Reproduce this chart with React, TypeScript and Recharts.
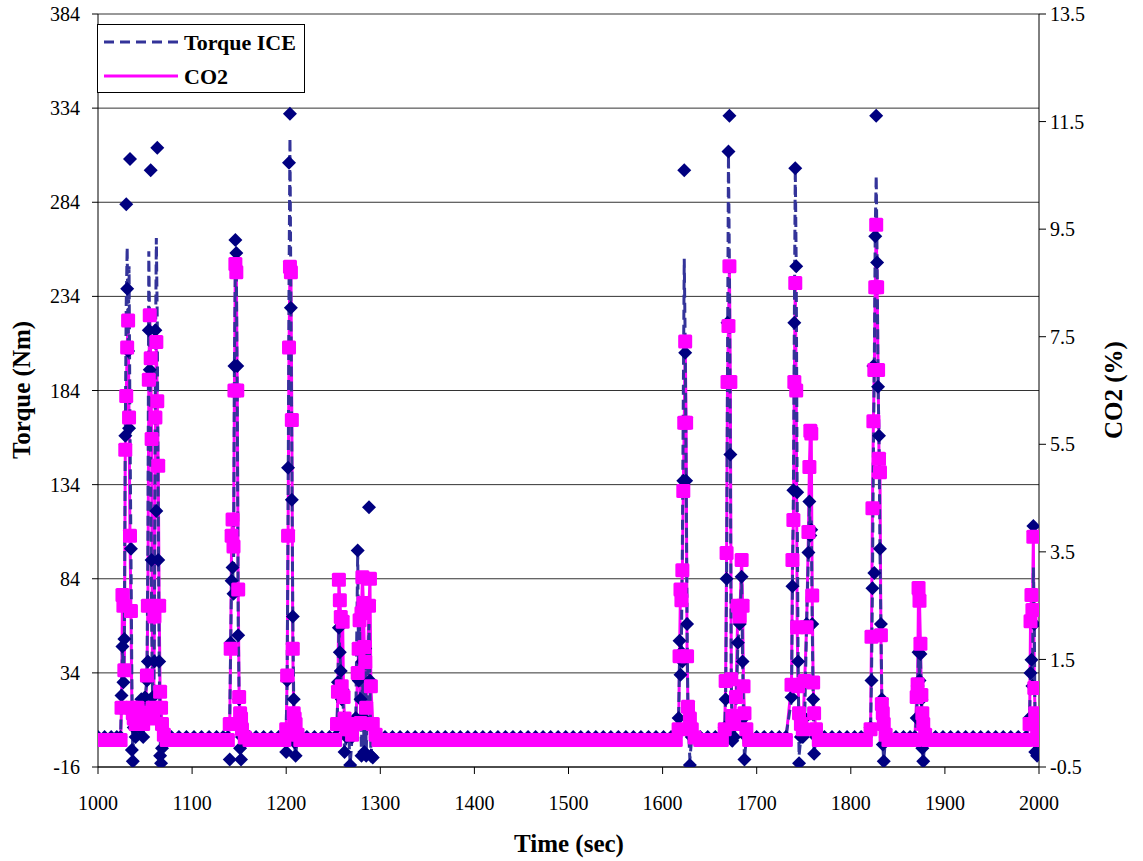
import React from 'react';
import { ComposedChart, Line, XAxis, YAxis, CartesianGrid, Legend, Label } from 'recharts';

const FONT = '"Liberation Serif", "Times New Roman", serif';

const xTicks = [1000, 1100, 1200, 1300, 1400, 1500, 1600, 1700, 1800, 1900, 2000];
const torqueTicks = [-16, 34, 84, 134, 184, 234, 284, 334, 384];
const co2Ticks = [-0.5, 1.5, 3.5, 5.5, 7.5, 9.5, 11.5, 13.5];

const time = [
  1000, 1007, 1014, 1020,
  1024, 1025, 1026, 1027, 1028, 1029, 1030, 1031, 1032, 1033, 1034, 1035, 1036, 1037, 1038, 1040, 1042, 1044, 1046, 1048, 1050, 1052, 1053, 1054, 1055, 1056, 1057, 1058, 1059, 1060, 1061, 1062, 1063, 1064, 1065, 1066, 1067, 1068, 1070, 1073,
  1078, 1086, 1094, 1102, 1110, 1118, 1126, 1133,
  1138, 1140, 1141, 1142, 1143, 1144, 1145, 1146, 1147, 1148, 1149, 1150, 1151, 1152, 1153, 1156,
  1161, 1168, 1176, 1184, 1192,
  1198, 1200, 1201, 1202, 1203, 1204, 1205, 1206, 1207, 1208, 1209, 1210, 1212, 1215,
  1222, 1230, 1238, 1246,
  1252, 1254, 1255, 1256, 1257, 1258, 1259, 1260, 1261, 1262, 1264, 1266, 1268, 1270, 1274, 1276, 1277, 1278, 1279, 1280, 1281, 1282, 1283, 1284, 1285, 1288, 1289, 1290, 1292, 1295, 1298,
  1305, 1313, 1321, 1329, 1337, 1345, 1353, 1361, 1369, 1377,
  1385, 1393, 1401, 1409, 1417, 1425, 1433, 1441, 1449, 1457,
  1465, 1473, 1481, 1489, 1497, 1505, 1513, 1521, 1529, 1537,
  1545, 1553, 1561, 1569, 1577, 1585, 1593, 1601, 1609,
  1614, 1617, 1618, 1619, 1620, 1621, 1622, 1623, 1624, 1625, 1626, 1627, 1629, 1631, 1634,
  1640, 1648, 1656,
  1663, 1666, 1667, 1668, 1669, 1670, 1671, 1672, 1673, 1674, 1676, 1678, 1680, 1682, 1684, 1685, 1686, 1687, 1689, 1692,
  1700, 1708, 1716, 1724,
  1731, 1737, 1738, 1739, 1740, 1741, 1742, 1743, 1744, 1745, 1747, 1749, 1751, 1753, 1755, 1756, 1757, 1758, 1759, 1760, 1761, 1763, 1766,
  1772, 1780, 1788, 1796, 1804, 1811,
  1816, 1821, 1822, 1823, 1824, 1825, 1826, 1827, 1828, 1829, 1830, 1831, 1832, 1833, 1834, 1835, 1837, 1840,
  1848, 1856, 1863,
  1868, 1870, 1871, 1872, 1873, 1874, 1875, 1876, 1877, 1879, 1882,
  1890, 1898, 1906, 1914, 1922, 1930, 1938, 1946, 1954, 1962, 1970, 1978,
  1986, 1990, 1991, 1992, 1993, 1994, 1995, 1996, 1997, 1998, 2000,
];

// Torque ICE (dashed line)
const torqueIce = [
  0, 0, 0, 0,
  0, 22, 48, 29, 52, 160, 230, 260, 205, 250, 164, 100, 30, -13, 5, 0, 15, 5, 20, 0, 21, 30, 100, 258, 210, 150, 60, 20, 10, 60, 200, 265, 220, 120, 40, 0, -14, -5, 0, 0,
  0, 0, 0, 0, 0, 0, 0, 0,
  0, 10, 50, 85, 90, 80, 200, 255, 250, 180, 60, 20, -5, -12, 0, 0,
  0, 0, 0, 0, 0,
  0, 5, 30, 120, 240, 318, 230, 150, 65, 20, -5, -10, 0, 0,
  0, 0, 0, 0,
  0, 5, 30, 58, 45, 35, 20, 25, 10, -8, 0, 5, -15, 0, 10, 99, 30, 60, 20, -10, 40, 10, -8, 47, -10, 60, 30, -10, 0, 0, 0,
  0, 0, 0, 0, 0, 0, 0, 0, 0, 0,
  0, 0, 0, 0, 0, 0, 0, 0, 0, 0,
  0, 0, 0, 0, 0, 0, 0, 0, 0, 0,
  0, 0, 0, 0, 0, 0, 0, 0, 0,
  0, 10, 40, 30, 50, 100, 180, 254, 210, 140, 60, 10, -12, 0, 0,
  0, 0, 0,
  0, 5, 20, 84, 200, 309, 250, 150, 30, -5, 0, 10, 50, 60, 85, 40, 10, -12, 0, 0,
  0, 0, 0, 0,
  0, 20, 80, 131, 220, 302, 250, 130, 40, -10, 0, 0, 10, 60, 98, 125, 107, 115, 60, 20, -9, 0, 0,
  0, 0, 0, 0, 0, 0,
  0, 5, 30, 80, 150, 200, 270, 298, 252, 186, 160, 100, 60, 20, -4, -13, 0, 0,
  0, 0, 0,
  0, 10, 27, 45, 30, 44, 20, -6, -13, 0, 0,
  0, 0, 0, 0, 0, 0, 0, 0, 0, 0, 0, 0,
  0, 10, 34, 41, 27, 90, 60, -8, 5, -10, 0,
];

// Torque ICE (diamond markers)
const torqueMarks = [
  0, 0, 0, 0,
  0, 22, 48, 29, 52, 160, 283, 238, 205, 164, 307, 100, -7, -13, 5, 0, 15, 5, 20, 0, 21, 30, 40, 216, 195, 301, 94, 21, 10, 40, 216, 120, 313, 94, 40, -10, -14, -6, 0, 0,
  0, 0, 0, 0, 0, 0, 0, 0,
  0, -12, 50, 83, 90, 76, 197, 264, 257, 197, 54, 20, -6, -12, 0, 0,
  0, 0, 0, 0, 0,
  0, -8, 30, 143, 305, 331, 228, 126, 64, 20, -3, -10, 0, 0,
  0, 0, 0, 0,
  0, 5, 29, 58, 45, 35, 20, 25, 10, -8, 0, 5, -15, 0, 10, 99, 30, 47, 20, -10, 40, 10, -8, 47, -10, 122, 30, -10, -11, 0, 0,
  0, 0, 0, 0, 0, 0, 0, 0, 0, 0,
  0, 0, 0, 0, 0, 0, 0, 0, 0, 0,
  0, 0, 0, 0, 0, 0, 0, 0, 0, 0,
  0, 0, 0, 0, 0, 0, 0, 0, 0,
  0, 10, 51, 33, 45, 40, 136, 301, 204, 136, 60, 10, -15, 0, 0,
  0, 0, 0,
  0, 5, 20, 84, 220, 311, 330, 150, 30, -2, 0, 10, 50, 60, 85, 40, 10, -12, 0, 0,
  0, 0, 0, 0,
  0, 21, 80, 131, 220, 302, 250, 130, 40, -14, 0, 0, 10, 60, 98, 125, 107, 110, 60, 20, -9, 0, 0,
  0, 0, 0, 0, 0, 0,
  0, 5, 30, 79, 197, 87, 266, 330, 252, 186, 160, 100, 60, 20, -4, -13, 0, 0,
  0, 0, 0,
  0, 10, 27, 45, 30, 44, 20, -6, -13, 0, 0,
  0, 0, 0, 0, 0, 0, 0, 0, 0, 0, 0, 0,
  0, 10, 34, 41, 27, 112, 60, -8, 5, -10, 0,
];

// CO2 (%)
const co2 = [
  0, 0, 0, 0,
  0, 0.6, 2.7, 2.5, 1.3, 5.4, 6.4, 7.3, 7.8, 6.0, 3.8, 2.4, 0.6, 0.5, 0.4, 0.3, 0.6, 0.4, 0.5, 0.3, 0.5, 1.2, 2.5, 6.7, 7.9, 7.1, 5.6, 0.6, 0.4, 2.3, 6.0, 7.4, 6.3, 5.1, 2.5, 0.9, 0.6, 0.3, 0.1, 0,
  0, 0, 0, 0, 0, 0, 0, 0,
  0, 0.3, 1.7, 3.8, 4.1, 3.6, 6.5, 8.85, 8.7, 6.5, 2.8, 0.8, 0.5, 0.4, 0.2, 0.05,
  0, 0, 0, 0, 0,
  0, 0.2, 1.2, 3.8, 7.3, 8.8, 8.7, 5.95, 1.7, 0.5, 0.4, 0.3, 0.1, 0,
  0, 0, 0, 0,
  0, 0.3, 0.9, 2.98, 2.6, 2.29, 1.0, 2.2, 0.8, 0.4, 0.2, 0.3, 0.2, 0.1, 0.3, 1.25, 1.7, 2.23, 0.32, 2.36, 3.03, 2.55, 1.73, 1.45, 0.6, 2.5, 3.0, 1.0, 0.3, 0.1, 0,
  0, 0, 0, 0, 0, 0, 0, 0, 0, 0,
  0, 0, 0, 0, 0, 0, 0, 0, 0, 0,
  0, 0, 0, 0, 0, 0, 0, 0, 0, 0,
  0, 0, 0, 0, 0, 0, 0, 0, 0,
  0, 0.2, 1.56, 2.8, 2.6, 3.16, 4.63, 5.9, 7.41, 5.9, 1.56, 0.62, 0.4, 0.2, 0.05,
  0, 0, 0,
  0, 0.2, 1.1, 3.48, 6.66, 7.7, 8.81, 6.66, 1.13, 0.45, 0.3, 0.8, 2.5, 2.3, 3.35, 2.5, 1.0, 0.5, 0.2, 0,
  0, 0, 0, 0,
  0, 1.03, 3.35, 4.09, 6.66, 8.5, 6.5, 2.1, 1.0, 0.5, 0.3, 0.2, 1.1, 2.1, 3.87, 5.08, 5.75, 5.7, 2.69, 1.07, 0.5, 0.2, 0,
  0, 0, 0, 0, 0, 0,
  0, 0.2, 1.92, 4.31, 5.93, 6.88, 8.42, 9.58, 8.42, 6.88, 5.23, 4.98, 1.95, 0.67, 0.5, 0.3, 0.1, 0,
  0, 0, 0,
  0, 0.8, 1.04, 2.83, 2.59, 1.79, 0.84, 0.5, 0.3, 0.1, 0,
  0, 0, 0, 0, 0, 0, 0, 0, 0, 0, 0, 0,
  0, 0.3, 2.21, 2.7, 2.42, 3.78, 0.97, 0.5, 0.3, 0.1, 0,
];

const n = Math.min(time.length, torqueIce.length, torqueMarks.length, co2.length);
const rows = time.slice(0, n).map((t, i) => ({ t, tl: torqueIce[i], tm: torqueMarks[i], c: co2[i] }));

const renderDiamond = (p: any) => {
  const { cx, cy, index } = p;
  if (cx == null || cy == null) return <g key={`d${index}`} />;
  return <path key={`d${index}`} d={`M${cx},${cy - 7}L${cx + 7},${cy}L${cx},${cy + 7}L${cx - 7},${cy}Z`} fill="#000080" />;
};

const renderSquare = (p: any) => {
  const { cx, cy, index } = p;
  if (cx == null || cy == null) return <g key={`s${index}`} />;
  return <rect key={`s${index}`} x={cx - 7} y={cy - 7} width={14} height={14} rx={1.5} fill="#FF00FF" />;
};

const renderLegend = () => (
  <div style={{ width: 208, height: 69, border: '1px solid #000', background: '#fff', boxSizing: 'border-box' }}>
    <svg width={206} height={67} style={{ display: 'block' }}>
      <line x1={6} y1={17} x2={80} y2={17} stroke="#333399" strokeWidth={3} strokeDasharray="10 6" />
      <line x1={6} y1={51} x2={80} y2={51} stroke="#FF00FF" strokeWidth={3} />
      <text x={86} y={25} fontFamily={FONT} fontWeight="bold" fontSize={22} fill="#000">Torque ICE</text>
      <text x={86} y={59} fontFamily={FONT} fontWeight="bold" fontSize={22} fill="#000">CO2</text>
    </svg>
  </div>
);

const tickStyle = { fill: '#000', fontSize: 20, fontFamily: FONT };

export default function App() {
  return (
    <div style={{ position: 'absolute', left: 0, top: 0, width: 1143, height: 861, background: '#fff' }}>
      <ComposedChart width={1143} height={861} data={rows} margin={{ top: 14, right: 44, bottom: 34, left: 38 }}>
        <CartesianGrid yAxisId="left" vertical={false} stroke="#333" strokeWidth={1} />
        <XAxis
          dataKey="t"
          type="number"
          domain={[1000, 2000]}
          ticks={xTicks}
          allowDataOverflow
          height={60}
          tickSize={7}
          tickMargin={22}
          tick={tickStyle}
          axisLine={{ stroke: '#000', strokeWidth: 1 }}
          tickLine={{ stroke: '#000' }}
        >
          <Label
            content={() => (
              <text x={569} y={852} textAnchor="middle" fontFamily={FONT} fontWeight="bold" fontSize={25} fill="#000">
                Time (sec)
              </text>
            )}
          />
        </XAxis>
        <YAxis
          yAxisId="left"
          type="number"
          domain={[-16, 384]}
          ticks={torqueTicks}
          allowDataOverflow
          width={60}
          tickSize={6}
          tickMargin={12}
          tick={tickStyle}
          axisLine={{ stroke: '#000', strokeWidth: 1 }}
          tickLine={{ stroke: '#000' }}
        >
          <Label
            content={() => (
              <text x={30} y={390} transform="rotate(-90 30 390)" textAnchor="middle" fontFamily={FONT} fontWeight="bold" fontSize={25} fill="#000">
                Torque (Nm)
              </text>
            )}
          />
        </YAxis>
        <YAxis
          yAxisId="right"
          orientation="right"
          type="number"
          domain={[-0.5, 13.5]}
          ticks={co2Ticks}
          allowDataOverflow
          width={60}
          tickSize={7}
          tickMargin={4}
          tick={tickStyle}
          tickFormatter={(v: number) => v.toFixed(1)}
          axisLine={{ stroke: '#000', strokeWidth: 1 }}
          tickLine={{ stroke: '#000' }}
        >
          <Label
            content={() => (
              <text x={1122} y={390} transform="rotate(-90 1122 390)" textAnchor="middle" fontFamily={FONT} fontWeight="bold" fontSize={25} fill="#000">
                CO2 (%)
              </text>
            )}
          />
        </YAxis>
        <Legend
          layout="vertical"
          align="center"
          verticalAlign="middle"
          content={renderLegend}
          wrapperStyle={{ left: 97, top: 24, width: 208, height: 69 }}
        />
        <Line
          yAxisId="left"
          dataKey="tm"
          type="linear"
          stroke="none"
          dot={renderDiamond}
          activeDot={false}
          legendType="none"
          isAnimationActive={false}
        />
        <Line
          yAxisId="right"
          dataKey="c"
          name="CO2"
          type="linear"
          stroke="#FF00FF"
          strokeWidth={3}
          dot={renderSquare}
          activeDot={false}
          isAnimationActive={false}
        />
        <Line
          yAxisId="left"
          dataKey="tl"
          name="Torque ICE"
          type="linear"
          stroke="#333399"
          strokeWidth={3}
          strokeDasharray="10 5"
          dot={false}
          activeDot={false}
          isAnimationActive={false}
        />
      </ComposedChart>
    </div>
  );
}
